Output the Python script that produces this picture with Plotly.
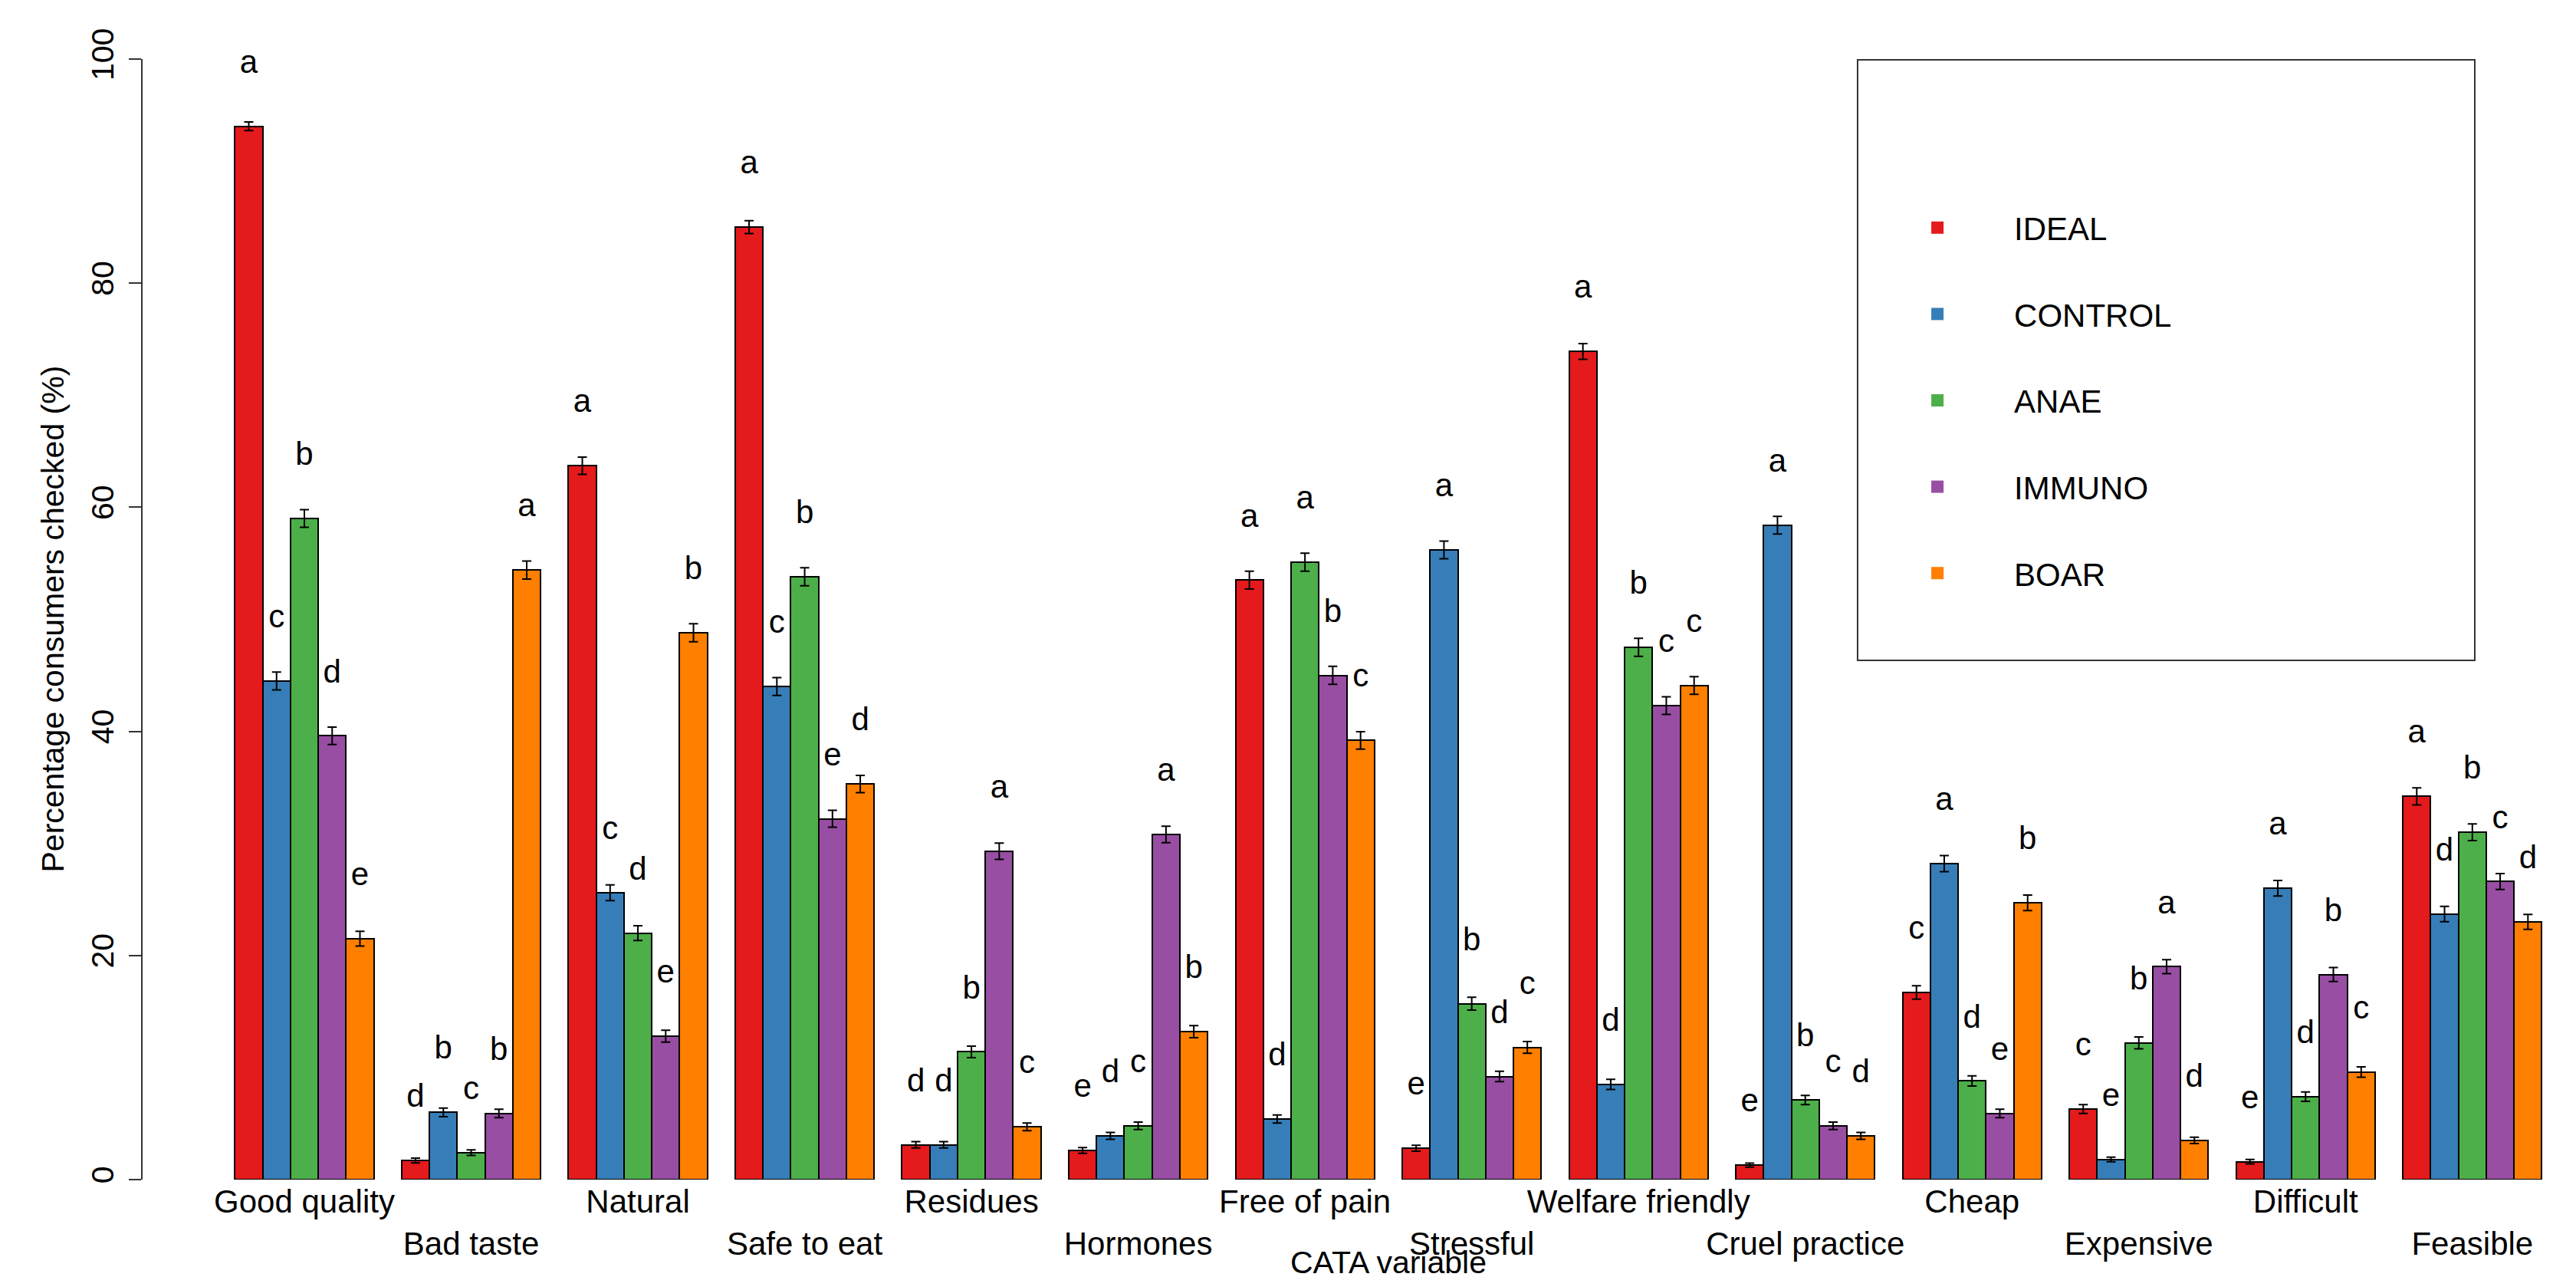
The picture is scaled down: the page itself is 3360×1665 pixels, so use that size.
import plotly.graph_objects as go

# CATA attributes (groups on the x axis)
variables = ["Good quality", "Bad taste", "Natural", "Safe to eat", "Residues",
             "Hormones", "Free of pain", "Stressful", "Welfare friendly",
             "Cruel practice", "Cheap", "Expensive", "Difficult", "Feasible"]

series = ["IDEAL", "CONTROL", "ANAE", "IMMUNO", "BOAR"]
colors = ["#E41A1C", "#377EB8", "#4DAF4A", "#984EA3", "#FF7F00"]

# percentage of consumers checking each term
ideal = [94.0, 1.7, 63.7, 85.0, 3.1, 2.6, 53.5, 2.8, 73.9, 1.3, 16.7, 6.3, 1.6, 34.2]
control = [44.5, 6.0, 25.6, 44.0, 3.1, 3.9, 5.4, 56.2, 8.5, 58.4, 28.2, 1.8, 26.0, 23.7]
anae = [59.0, 2.4, 22.0, 53.8, 11.4, 4.8, 55.1, 15.7, 47.5, 7.1, 8.8, 12.2, 7.4, 31.0]
immuno = [39.6, 5.9, 12.8, 32.2, 29.3, 30.8, 45.0, 9.2, 42.3, 4.8, 5.9, 19.0, 18.3, 26.6]
boar = [21.5, 54.4, 48.8, 35.3, 4.7, 13.2, 39.2, 11.8, 44.1, 3.9, 24.7, 3.5, 9.6, 23.0]

# standard errors (error bar half-lengths)
ideal_se = [0.38, 0.21, 0.77, 0.57, 0.28, 0.25, 0.80, 0.26, 0.70, 0.18, 0.60, 0.39, 0.20, 0.76]
control_se = [0.80, 0.38, 0.70, 0.79, 0.28, 0.31, 0.36, 0.79, 0.45, 0.79, 0.72, 0.21, 0.70, 0.68]
anae_se = [0.79, 0.25, 0.66, 0.80, 0.51, 0.34, 0.80, 0.58, 0.80, 0.41, 0.45, 0.53, 0.42, 0.74]
immuno_se = [0.78, 0.38, 0.53, 0.75, 0.73, 0.74, 0.80, 0.46, 0.79, 0.34, 0.38, 0.63, 0.62, 0.71]
boar_se = [0.66, 0.80, 0.80, 0.77, 0.34, 0.54, 0.78, 0.52, 0.79, 0.31, 0.69, 0.29, 0.47, 0.67]

# significance letters
ideal_lab = ["a", "d", "a", "a", "d", "e", "a", "e", "a", "e", "c", "c", "e", "a"]
control_lab = ["c", "b", "c", "c", "d", "d", "d", "a", "d", "a", "a", "e", "a", "d"]
anae_lab = ["b", "c", "d", "b", "b", "c", "a", "b", "b", "b", "d", "b", "d", "b"]
immuno_lab = ["d", "b", "e", "e", "a", "a", "b", "d", "c", "c", "e", "a", "b", "c"]
boar_lab = ["e", "a", "b", "d", "c", "b", "c", "c", "c", "d", "b", "d", "c", "d"]

values = [ideal, control, anae, immuno, boar]
errors = [ideal_se, control_se, anae_se, immuno_se, boar_se]
letters = [ideal_lab, control_lab, anae_lab, immuno_lab, boar_lab]

FONT = "Liberation Sans, Arial, sans-serif"

fig = go.Figure()
for j, name in enumerate(series):
    # R barplot layout: 5 bars side by side, one bar-width gap between groups
    xs = [g * 6 + 1 + j + 0.5 for g in range(len(variables))]
    fig.add_trace(go.Bar(
        x=xs, y=values[j], width=1, name=name, showlegend=False,
        marker=dict(color=colors[j], line=dict(color="black", width=2)),
        error_y=dict(type="data", array=errors[j], color="black", thickness=2, width=6),
    ))
    fig.add_trace(go.Scatter(
        x=xs, y=[v + 5.5 for v in values[j]], text=letters[j], mode="text",
        textposition="middle center", showlegend=False, cliponaxis=False,
        textfont=dict(family=FONT, size=42, color="black"), hoverinfo="skip",
    ))

# legend entries
for j, name in enumerate(series):
    fig.add_trace(go.Scatter(
        x=[None], y=[None], mode="markers", name=name, legendgroup=name,
        marker=dict(symbol="square", size=16, color=colors[j]),
    ))

centers = [g * 6 + 3.5 for g in range(len(variables))]
ticktext = [v if i % 2 == 0 else "<br>" + v for i, v in enumerate(variables)]

fig.update_layout(
    width=3360, height=1665,
    margin=dict(l=178, r=0, t=69, b=135),
    plot_bgcolor="white", paper_bgcolor="white",
    barmode="overlay", bargap=0,
    font=dict(family=FONT, size=40, color="black"),
    legend=dict(x=0.7043, y=0.8727, xanchor="left", yanchor="top",
                bgcolor="rgba(0,0,0,0)", borderwidth=0, tracegroupgap=55,
                itemwidth=190,
                font=dict(family=FONT, size=42, color="black")),
    xaxis=dict(range=[-2.32, 85.45], tickvals=centers, ticktext=ticktext,
               tickangle=0, ticks="", showline=False, showgrid=False, zeroline=False,
               automargin=False,
               tickfont=dict(family=FONT, size=42, color="black")),
    yaxis=dict(range=[0, 100], tickvals=[0, 20, 40, 60, 80, 100], tickangle=-90,
               ticks="outside", ticklen=16, tickwidth=2, tickcolor="#333",
               showline=True, linecolor="#333", linewidth=2, automargin=False,
               showgrid=False, zeroline=False, ticklabelstandoff=4,
               tickfont=dict(family=FONT, size=41, color="black")),
    shapes=[dict(type="rect", xref="paper", yref="paper",
                 x0=0.703, x1=0.956, y0=0.4634, y1=0.9993,
                 line=dict(color="#333", width=2), fillcolor="rgba(0,0,0,0)")],
    annotations=[
        dict(text="Percentage consumers checked (%)", textangle=-90,
             xref="paper", yref="paper", x=0, y=0.5, xshift=-118,
             xanchor="center", yanchor="middle", showarrow=False,
             font=dict(family=FONT, size=41, color="black")),
        dict(text="CATA variable", xref="x", yref="paper", x=42.5, y=0,
             yshift=-108, xanchor="center", yanchor="middle", showarrow=False,
             font=dict(family=FONT, size=41, color="black")),
    ],
)

fig.write_html("out.html")
